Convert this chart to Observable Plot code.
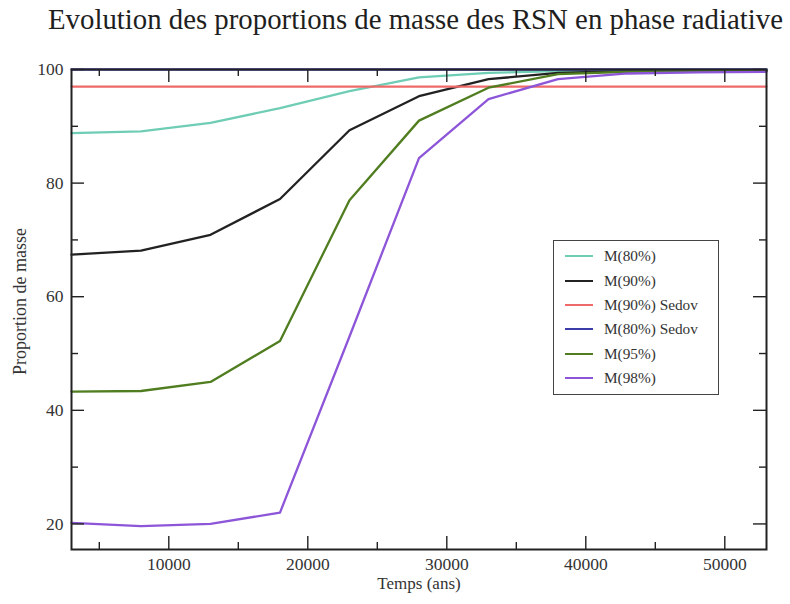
<!DOCTYPE html>
<html>
<head>
<meta charset="utf-8">
<script src="https://cdn.jsdelivr.net/npm/d3@7"></script>
<script src="https://cdn.jsdelivr.net/npm/@observablehq/plot@0.6"></script>
<style>
  html, body { margin: 0; padding: 0; background: #fff; }
  #wrap { position: relative; width: 790px; height: 604px; overflow: hidden;
          font-family: "Liberation Serif", "Times New Roman", serif; color: #222; }
  #title { height: 45px; box-sizing: border-box; padding-top: 5px; padding-left: 48px;
           font-size: 28.8px; line-height: 1; white-space: nowrap; color: #1e1e1e; }
  #legend { position: absolute; left: 553px; top: 240px; width: 166px; height: 155px;
            box-sizing: border-box; border: 1px solid #444; background: #fff;
            padding-top: 3px; font-size: 15.3px; color: #333; }
  .row { height: 24.4px; display: flex; align-items: center; }
  .sw { width: 28px; height: 0; border-top: 2.5px solid; margin-left: 11px; margin-right: 11px; }
</style>
</head>
<body>
<div id="wrap">
  <div id="title"></div>
  <div id="chart"></div>
  <div id="legend"></div>
</div>
<script>
// ---- data ----
const titleText = "Evolution des proportions de masse des RSN en phase radiative";
const xTitle = "Temps (ans)";
const yTitle = "Proportion de masse";

const years = [3000, 8000, 13000, 18000, 23000, 28000, 33000, 38000, 43000, 48000, 53000];

const seriesNames = ["M(80%)", "M(90%)", "M(90%) Sedov", "M(80%) Sedov", "M(95%)", "M(98%)"];
const seriesColors = ["#6fcdb5", "#222222", "#ee6a6a", "#3c3ca8", "#4f7d1f", "#8d55d8"];

const m80      = [88.8, 89.1, 90.6, 93.2, 96.2, 98.6, 99.4, 99.7, 99.8, 99.8, 99.8];
const m90      = [67.4, 68.1, 70.9, 77.2, 89.3, 95.3, 98.3, 99.4, 99.7, 99.8, 99.8];
const m90Sedov = [97.0, 97.0, 97.0, 97.0, 97.0, 97.0, 97.0, 97.0, 97.0, 97.0, 97.0];
const m80Sedov = [100, 100, 100, 100, 100, 100, 100, 100, 100, 100, 100];
const m95      = [43.3, 43.4, 45.0, 52.2, 77.0, 91.0, 96.8, 99.2, 99.6, 99.7, 99.8];
const m98      = [20.2, 19.6, 20.0, 22.0, 53.0, 84.4, 94.8, 98.3, 99.3, 99.5, 99.6];

const xMajorTicks = [10000, 20000, 30000, 40000, 50000];
const xMinorTicks = [5000, 15000, 25000, 35000, 45000];
const yMajorTicks = [20, 40, 60, 80, 100];
const yMinorTicks = [30, 50, 70, 90];

// ---- build ----
const seriesValues = [m80, m90, m90Sedov, m80Sedov, m95, m98];
const rows = [];
seriesNames.forEach((name, k) => {
  years.forEach((yr, i) => rows.push({year: yr, value: seriesValues[k][i], series: name}));
});

document.getElementById("title").textContent = titleText;

const W = 790, H = 559;
const mT = 24, mB = 55, mL = 71, mR = 24;
const fw = W - mL - mR, fh = H - mT - mB;
const major = 13, minor = 7;
const tickStyle = {stroke: "#222", strokeWidth: 1.4};

const chart = Plot.plot({
  width: W,
  height: H,
  marginTop: mT,
  marginBottom: mB,
  marginLeft: mL,
  marginRight: mR,
  style: {fontFamily: "'Liberation Serif', 'Times New Roman', serif", fontSize: "17.5px", color: "#333", background: "#fff"},
  x: {domain: [3000, 53000]},
  y: {domain: [15.5, 100]},
  color: {domain: seriesNames, range: seriesColors},
  marks: [
    Plot.line(rows, {x: "year", y: "value", z: "series", stroke: "series", strokeWidth: 2.3}),
    // inward ticks on all four sides
    Plot.ruleX(xMajorTicks, {x: d => d, insetTop: fh - major, ...tickStyle}),
    Plot.ruleX(xMinorTicks, {x: d => d, insetTop: fh - minor, ...tickStyle}),
    Plot.ruleX(xMajorTicks, {x: d => d, insetBottom: fh - major, ...tickStyle}),
    Plot.ruleX(xMinorTicks, {x: d => d, insetBottom: fh - minor, ...tickStyle}),
    Plot.ruleY(yMajorTicks, {y: d => d, insetRight: fw - major, ...tickStyle}),
    Plot.ruleY(yMinorTicks, {y: d => d, insetRight: fw - minor, ...tickStyle}),
    Plot.ruleY(yMajorTicks, {y: d => d, insetLeft: fw - major, ...tickStyle}),
    Plot.ruleY(yMinorTicks, {y: d => d, insetLeft: fw - minor, ...tickStyle}),
    Plot.frame({stroke: "#222", strokeWidth: 2}),
    Plot.axisX(xMajorTicks, {anchor: "bottom", tickSize: 0, tickPadding: 8, tickFormat: d => String(d), label: null, fill: "#333"}),
    Plot.axisY(yMajorTicks, {anchor: "left", tickSize: 0, tickPadding: 8, tickFormat: d => String(d), label: null, fill: "#333"}),
    Plot.text([xTitle], {text: d => d, frameAnchor: "bottom", lineAnchor: "middle", textAnchor: "middle", dy: 34, fontSize: 17, fill: "#333"}),
    Plot.text([yTitle], {text: d => d, frameAnchor: "left", lineAnchor: "middle", textAnchor: "middle", rotate: -90, dx: -51, dy: -8, fontSize: 18, fill: "#333"})
  ]
});
document.getElementById("chart").appendChild(chart);

// legend
const legend = document.getElementById("legend");
seriesNames.forEach((name, k) => {
  const row = document.createElement("div");
  row.className = "row";
  const sw = document.createElement("div");
  sw.className = "sw";
  sw.style.borderTopColor = seriesColors[k];
  const t = document.createElement("span");
  t.textContent = name;
  row.appendChild(sw);
  row.appendChild(t);
  legend.appendChild(row);
});
</script>
</body>
</html>
